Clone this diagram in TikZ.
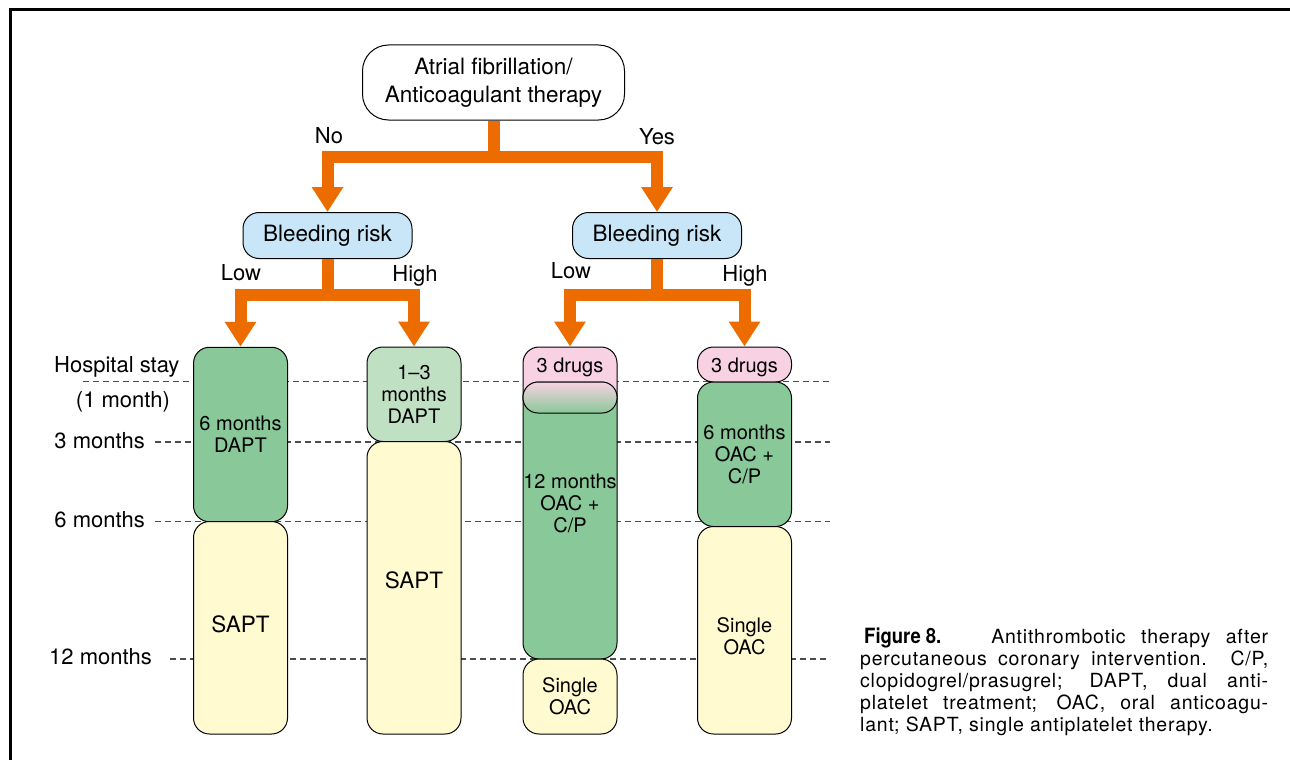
\documentclass[tikz,border=0pt]{standalone}
\usepackage{fontspec}
\usepackage{graphicx}
\setmainfont{TeX Gyre Heros}
\newfontfamily\capfont[LetterSpace=4]{TeX Gyre Heros}
\newfontfamily\figfont{TeX Gyre Heros}
\usetikzlibrary{arrows.meta}
\definecolor{aorange}{RGB}{236,108,0}
\definecolor{bblue}{RGB}{200,230,248}
\definecolor{dgreen}{RGB}{137,200,152}
\definecolor{lgreen}{RGB}{192,224,196}
\definecolor{cyellow}{RGB}{255,250,208}
\definecolor{cpink}{RGB}{248,210,226}
\begin{document}
\begin{tikzpicture}[x=1pt,y=-1pt,
  oarrow/.style={draw=aorange, line width=12pt, line join=miter, -{Triangle[width=30pt,length=25pt]}},
  obar/.style={draw=aorange, line width=12pt, line join=miter},
  topbox/.style={draw, line width=1pt, rounded corners=26pt, minimum width=262pt, minimum height=75pt, inner sep=0pt, align=center, font=\fontsize{22.5}{28}\selectfont},
  bbox/.style={draw, line width=1pt, fill=bblue, rounded corners=16pt, minimum width=169pt, minimum height=46pt, inner sep=0pt, font=\fontsize{22.5}{26}\selectfont},
  colbox/.style={draw, line width=1pt, rounded corners=16pt, minimum width=94pt, inner sep=0pt, align=center, font=\fontsize{20}{22}\selectfont},
  big/.style={font=\fontsize{22.5}{26}\selectfont},
  lab/.style={inner sep=0pt, font=\fontsize{22}{26}\selectfont},
  txt/.style={inner sep=0pt, align=center, font=\fontsize{20}{22}\selectfont},
  dline/.style={draw=black!70, line width=1.2pt, dash pattern=on 6pt off 4pt}
]
\useasboundingbox (0,0) rectangle (1290,760);
% frame
\draw[line width=3pt] (10.5,760) -- (10.5,9.5) -- (1290,9.5);

% time labels
\node[lab, anchor=west] (hs) at (54,366.5) {Hospital stay};
\node[lab] (om) at (123,402) {(1 month)};
\node[lab, anchor=east] (m3) at (145,441) {3 months};
\node[lab, anchor=east] (m6) at (145,520) {6 months};
\node[lab, anchor=east] (m12) at (152,657) {12 months};

% dashed lines
\coordinate (d0s) at (83,381.5);  \coordinate (d0e) at (830,381.5);
\coordinate (d1s) at (155,442);   \coordinate (d1e) at (830,442);
\coordinate (d2s) at (155,521.5); \coordinate (d2e) at (830,521.5);
\coordinate (d3s) at (170,659);   \coordinate (d3e) at (830,659);
\draw[dline] (d0s) -- (d0e);
\draw[dline] (d1s) -- (d1e);
\draw[dline] (d2s) -- (d2e);
\draw[dline] (d3s) -- (d3e);

% top decision
\node[topbox] (af) at (493.5,82.5) {Atrial fibrillation/\\Anticoagulant therapy};
\node[bbox] (bl) at (327.5,235.5) {Bleeding risk};
\node[bbox] (br) at (657,235.5) {Bleeding risk};

% column 1
\node[colbox, fill=dgreen, minimum height=174.5pt] (c1a) at (240.5,434.5) {6 months\\DAPT};
\node[colbox, fill=cyellow, minimum height=212.5pt] (c1b) at (240.5,627.75) {};
\node[txt, big] (c1bt) at (240.5,624) {SAPT};
% column 2
\node[colbox, fill=lgreen, minimum height=94.5pt] (c2a) at (414,394.25) {1--3\\months\\DAPT};
\node[colbox, fill=cyellow, minimum height=292.5pt] (c2b) at (414,587.75) {};
\node[txt, big] (c2bt) at (414,580) {SAPT};
% column 3
\node[colbox, fill=cpink, minimum height=66pt] (c3p) at (570,380) {};
\node[colbox, fill=dgreen, minimum height=277pt] (c3g) at (570,520.5) {};
\node[colbox, rounded corners=15pt, minimum height=31pt, top color=cpink, bottom color=dgreen] (c3s) at (570,397.5) {};
\node[txt] (c3pt) at (570,367) {3 drugs};
\node[txt] (c3gt) at (570,503.5) {12 months\\OAC +\\C/P};
\node[colbox, fill=cyellow, minimum height=75pt] (c3y) at (570,696.5) {Single\\OAC};
% column 4
\node[colbox, fill=cpink, minimum height=35pt] (c4p) at (744.5,364.5) {};
\node[txt] (c4pt) at (744.5,367) {3 drugs};
\node[colbox, fill=dgreen, minimum height=144.5pt] (c4g) at (744.5,454.25) {6 months\\OAC +\\C/P};
\node[colbox, fill=cyellow, minimum height=207.5pt] (c4y) at (744.5,630.25) {};
\node[txt] (c4yt) at (744.5,636) {Single\\OAC};

% orange arrows
\coordinate (j0) at (493.5,157);
\coordinate (j1) at (327.5,295);
\coordinate (j2) at (657,295);
\draw[obar] (af.south) -- (j0);
\draw[oarrow] (j0) -| (bl.north);
\draw[oarrow] (j0) -| (br.north);
\draw[obar] (bl.south) -- (j1);
\draw[oarrow] (j1) -| (c1a.north);
\draw[oarrow] (j1) -| (c2a.north);
\draw[obar] (br.south) -- (j2);
\draw[oarrow] (j2) -| (c3p.north);
\draw[oarrow] (j2) -| (c4p.north);

% branch labels
\node[lab] (no) at (329,136) {No};
\node[lab] (yes) at (657,137) {Yes};
\node[lab] (lowl) at (241,273) {Low};
\node[lab] (highl) at (415,276) {High};
\node[lab] (lowr) at (571,271) {Low};
\node[lab] (highr) at (745,276) {High};

% caption
\node[anchor=north west, inner sep=0pt, text width=408pt, align=justify, font=\capfont\fontsize{19.5}{22}\selectfont] (cap) at (860,628)
{\hspace*{4pt}{\figfont\bfseries\fontsize{21}{22}\selectfont\scalebox{0.88}[1]{Figure 8.}}\hspace{50pt}Antithrombotic therapy after\linebreak percutaneous coronary intervention. C/P,\linebreak clopidogrel/prasugrel; DAPT, dual anti-\linebreak platelet treatment; OAC, oral anticoagu-\linebreak lant; SAPT, single antiplatelet therapy.};
\end{tikzpicture}
\end{document}
